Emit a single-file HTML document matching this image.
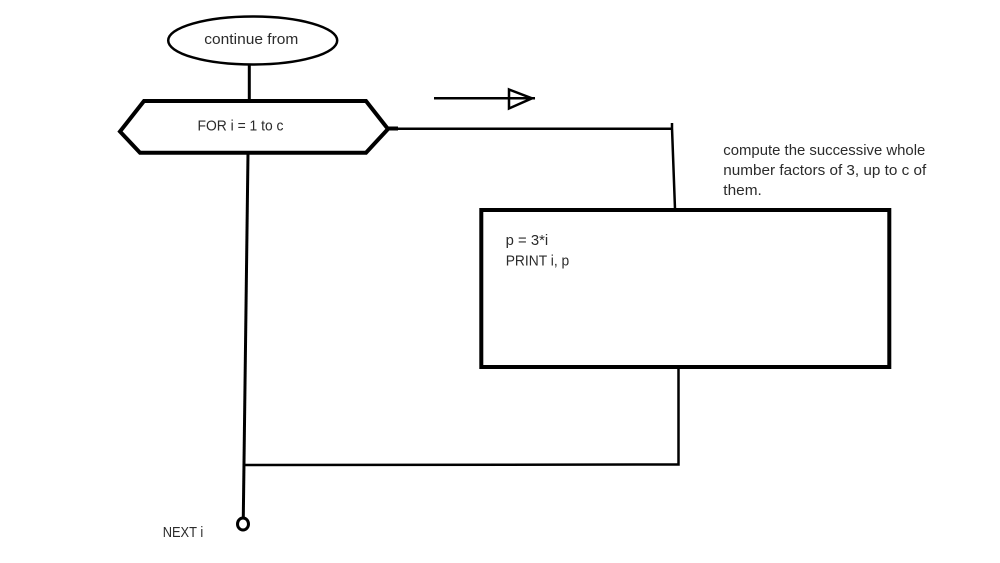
<!DOCTYPE html>
<html>
<head>
<meta charset="utf-8">
<style>
html,body{margin:0;padding:0;background:#fff;width:1000px;height:563px;overflow:hidden}
svg{display:block}
text{font-family:"Liberation Sans",sans-serif;font-size:14.500px;fill:#2b2b2b}
</style>
</head>
<body>
<svg width="1000" height="563" viewBox="0 0 1000 563">
<g fill="none" stroke="#000">
<ellipse cx="252.700" cy="40.500" rx="84.500" ry="24" stroke-width="2.500"/>
<path d="M249.300 64V101" stroke-width="3"/>
<path d="M144 101H366L388 129L366 152.700H140L120 131.500Z" stroke-width="4"/>
<path d="M388 128.500H398" stroke-width="4"/>
<path d="M396 128.700H672" stroke-width="2.500"/>
<path d="M672 123V128L675 209" stroke-width="2.500"/>
<path d="M248 153L243.300 517" stroke-width="3"/>
<ellipse cx="243" cy="524" rx="5.500" ry="6" stroke-width="3"/>
<rect x="481.300" y="210" width="408" height="157" stroke-width="4"/>
<path d="M678.500 367V464.500L244 465" stroke-width="2.500"/>
<path d="M434 98.300H535" stroke-width="2.500"/>
<path d="M509 89.500L532 98.300L509 108.500Z" stroke-width="2.500"/>
</g>
<text x="204.300" y="44" textLength="94" lengthAdjust="spacingAndGlyphs">continue from</text>
<text x="197.500" y="130.500" textLength="86" lengthAdjust="spacingAndGlyphs">FOR i = 1 to c</text>
<text x="723.300" y="155" textLength="202" lengthAdjust="spacingAndGlyphs">compute the successive whole</text>
<text x="723.300" y="175" textLength="203" lengthAdjust="spacingAndGlyphs">number factors of 3, up to c of</text>
<text x="723.300" y="195" textLength="38.500" lengthAdjust="spacingAndGlyphs">them.</text>
<text x="505.700" y="245" textLength="42.500" lengthAdjust="spacingAndGlyphs">p = 3*i</text>
<text x="505.700" y="265.500" textLength="63.500" lengthAdjust="spacingAndGlyphs">PRINT i, p</text>
<text x="162.700" y="537" textLength="40.500" lengthAdjust="spacingAndGlyphs">NEXT i</text>
</svg>
</body>
</html>
